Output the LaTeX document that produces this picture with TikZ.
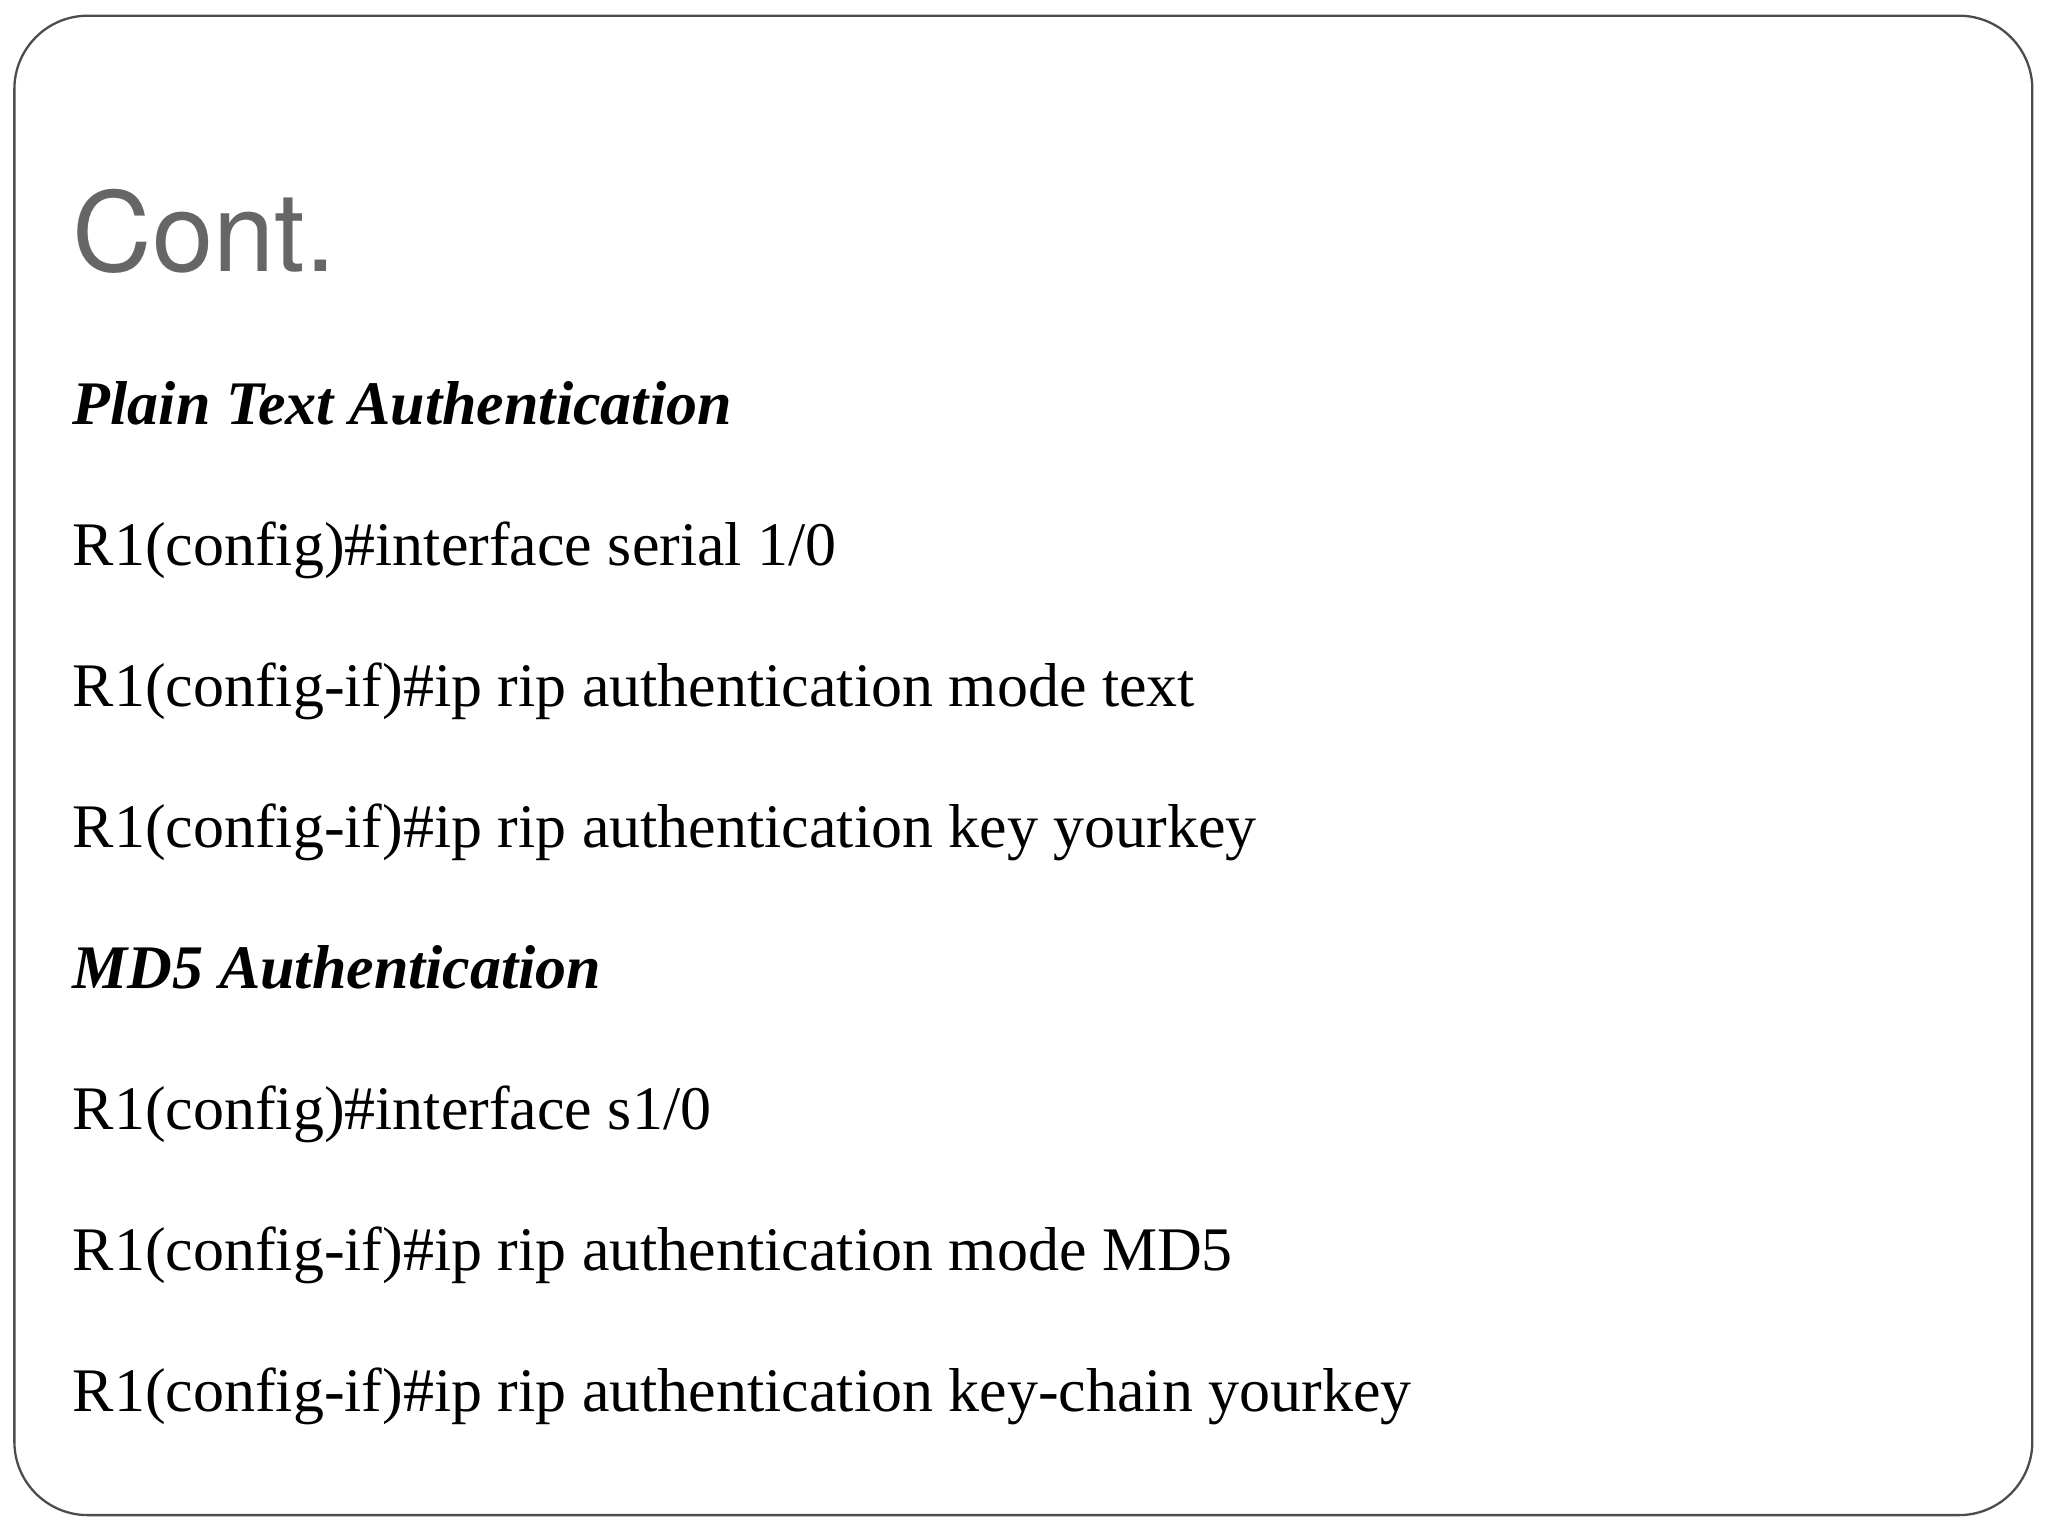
\documentclass[tikz,border=0pt]{standalone}
\usepackage{fontspec}
\setmainfont{Liberation Serif}
\newfontfamily\titlefont{TeX Gyre Heros}
\begin{document}
\begin{tikzpicture}[x=0.1mm,y=-0.1mm,
  line/.style={anchor=base west, inner sep=0pt, font=\fontsize{13.5}{16}\selectfont},
  head/.style={line, font=\fontsize{13.5}{16}\selectfont\bfseries\itshape}]
   \useasboundingbox (0,0) rectangle (1568,1176);
   \draw[color=gray!60!black, line width=0.5pt, rounded corners=16] (11,12) rectangle (1556,1160);
   \node[anchor=base west, inner sep=0pt, text=black!60, font=\titlefont\fontsize{24}{28}\selectfont] (title) at (55,208) {Cont.};
   \node[head] (plain) at (55,325) {Plain Text Authentication};
   \node[line] (p1) at (55,433) {R1(config)\#interface serial 1/0};
   \node[line] (p2) at (55,541) {R1(config-if)\#ip rip authentication mode text};
   \node[line] (p3) at (55,649) {R1(config-if)\#ip rip authentication key yourkey};
   \node[head] (md) at (55,757) {MD5 Authentication};
   \node[line] (m1) at (55,865) {R1(config)\#interface s1/0};
   \node[line] (m2) at (55,973) {R1(config-if)\#ip rip authentication mode MD5};
   \node[line] (m3) at (55,1081) {R1(config-if)\#ip rip authentication key-chain yourkey};
\end{tikzpicture}
\end{document}
